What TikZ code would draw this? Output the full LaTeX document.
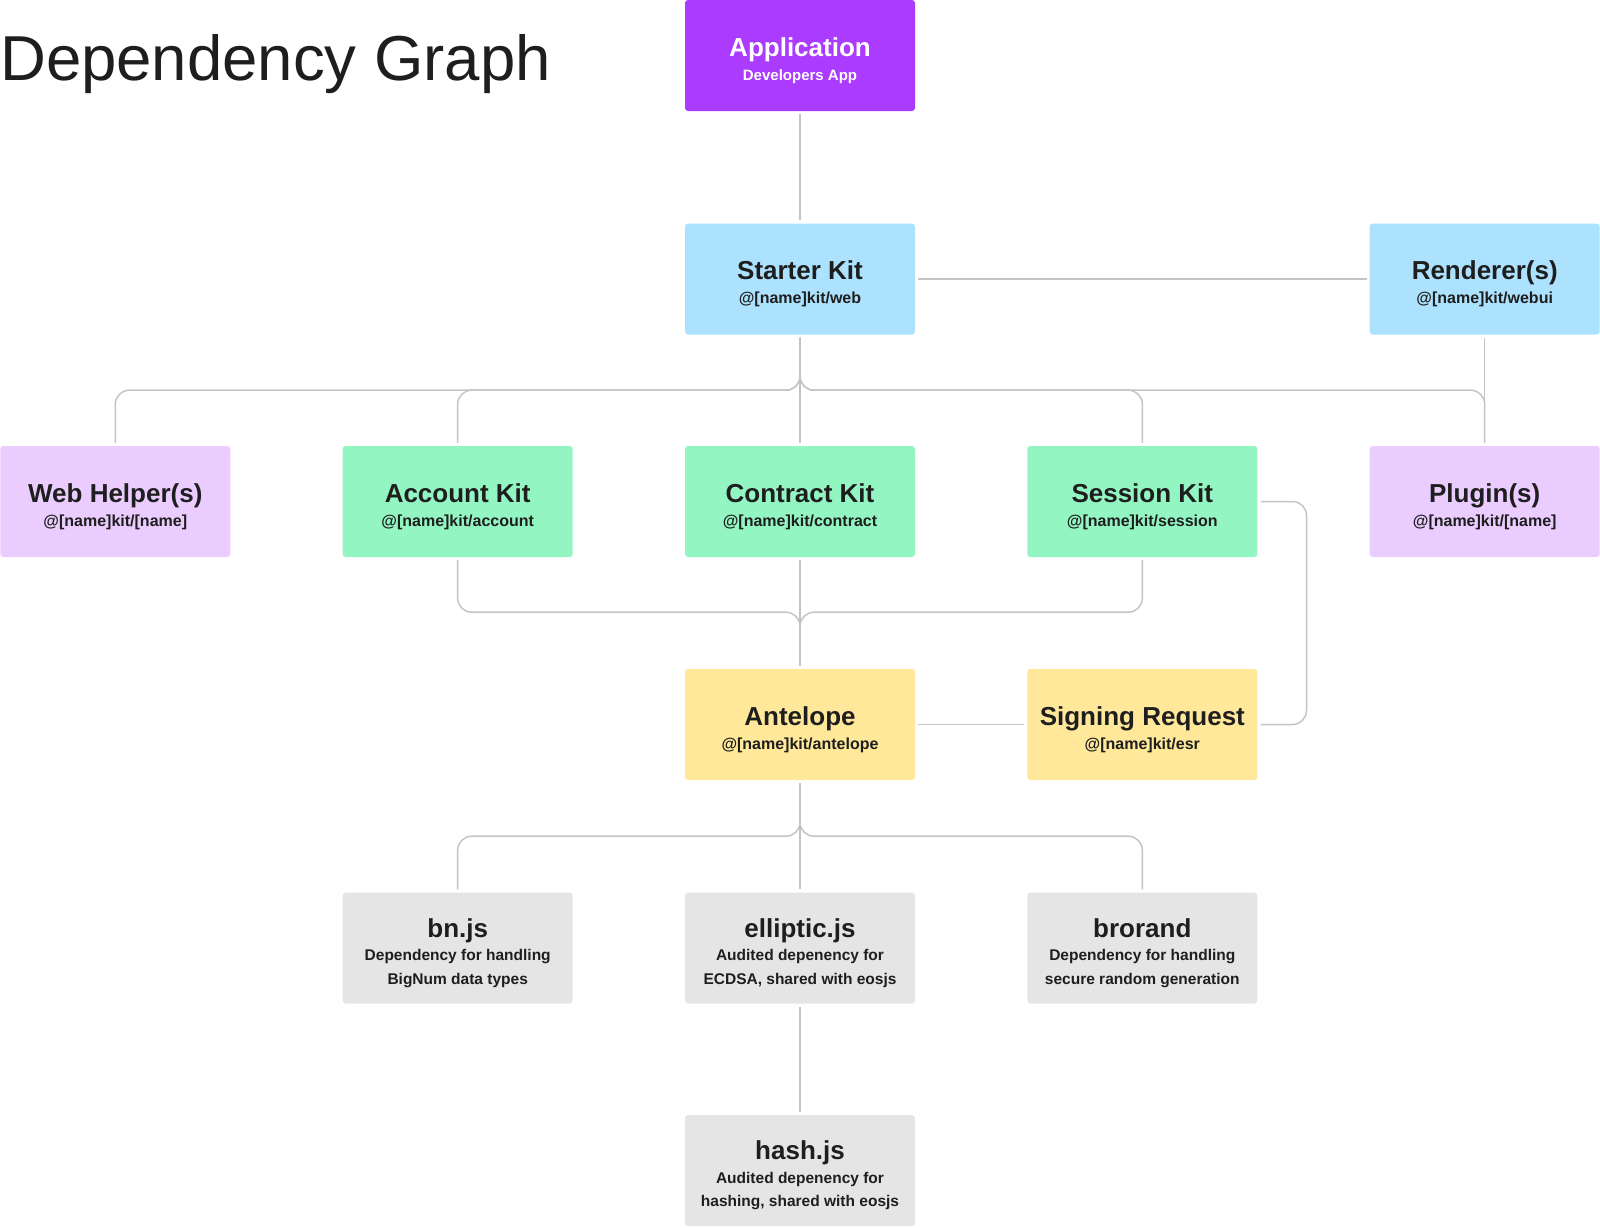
\documentclass[tikz,border=0pt]{standalone}
\usepackage{fontspec}
\setmainfont{Liberation Sans}
\definecolor{ink}{RGB}{30,30,30}
\definecolor{wire}{RGB}{196,196,196}
\definecolor{appc}{RGB}{170,59,255}
\definecolor{kitc}{RGB}{173,226,255}
\definecolor{extc}{RGB}{234,204,255}
\definecolor{modc}{RGB}{147,246,194}
\definecolor{corec}{RGB}{255,232,153}
\definecolor{libc}{RGB}{229,229,229}
\newcommand\boxtitle[1]{{\fontsize{26}{24}\selectfont\rule{0pt}{29pt}#1}\\}
\begin{document}
\begin{tikzpicture}[x=1pt,y=-1pt,
	box/.style={minimum width=230pt,minimum height=111pt,rounded corners=3pt,inner sep=0pt,align=center,text=ink,font=\fontsize{16}{24}\selectfont\bfseries},
	lib/.style={box,fill=libc,font=\fontsize{15.5}{23.5}\selectfont\bfseries},
	link/.style={draw=wire,line width=1.5pt,rounded corners=14pt,shorten <=3pt,shorten >=3pt}]
	\useasboundingbox (0,0) rectangle (1600,1227);
	\node[anchor=base west,inner sep=0pt,text=ink,font=\fontsize{63.5}{70}\selectfont] (title) at (0,80) {Dependency Graph};
	% top
	\node[box,fill=appc,text=white,font=\fontsize{15}{24}\selectfont\bfseries] (app) at (800,55.5) {\boxtitle{Application}Developers App};
	\node[box,fill=kitc] (sk) at (800,279) {\boxtitle{Starter Kit}@[name]kit/web};
	\node[box,fill=kitc] (rend) at (1484.7,279) {\boxtitle{Renderer(s)}@[name]kit/webui};
	% kits
	\node[box,fill=extc] (wh) at (115.3,501.5) {\boxtitle{Web Helper(s)}@[name]kit/[name]};
	\node[box,fill=modc] (ak) at (457.7,501.5) {\boxtitle{Account Kit}@[name]kit/account};
	\node[box,fill=modc] (ck) at (800,501.5) {\boxtitle{Contract Kit}@[name]kit/contract};
	\node[box,fill=modc] (sess) at (1142.3,501.5) {\boxtitle{Session Kit}@[name]kit/session};
	\node[box,fill=extc] (plug) at (1484.7,501.5) {\boxtitle{Plugin(s)}@[name]kit/[name]};
	% core
	\node[box,fill=corec] (ant) at (800,724.5) {\boxtitle{Antelope}@[name]kit/antelope};
	\node[box,fill=corec] (sig) at (1142.3,724.5) {\boxtitle{Signing Request}@[name]kit/esr};
	% libraries
	\node[lib] (bn) at (457.7,948) {\boxtitle{bn.js}Dependency for handling\\BigNum data types};
	\node[lib] (ell) at (800,948) {\boxtitle{elliptic.js}Audited depenency for\\ECDSA, shared with eosjs};
	\node[lib] (bro) at (1142.3,948) {\boxtitle{brorand}Dependency for handling\\secure random generation};
	\node[lib] (hash) at (800,1170.5) {\boxtitle{hash.js}Audited depenency for\\hashing, shared with eosjs};

	\draw[link] (app) -- (sk);
	\draw[link] (sk) -- (rend);
	\draw[link] (rend) -- (plug);
	\foreach \n in {wh,ak,sess,plug} \draw[link] (sk.south) -- ++(0,55.5) -| (\n.north);
	\draw[link] (sk) -- (ck);
	\foreach \n in {ak,sess} \draw[link] (\n.south) -- ++(0,55) -| (ant.north);
	\draw[link] (ck) -- (ant);
	\draw[link] (sess.east) -- ++(49,0) |- (sig.east);
	\draw[link] (ant) -- (sig);
	\foreach \n in {bn,bro} \draw[link] (ant.south) -- ++(0,56) -| (\n.north);
	\draw[link] (ant) -- (ell);
	\draw[link] (ell) -- (hash);
\end{tikzpicture}
\end{document}
